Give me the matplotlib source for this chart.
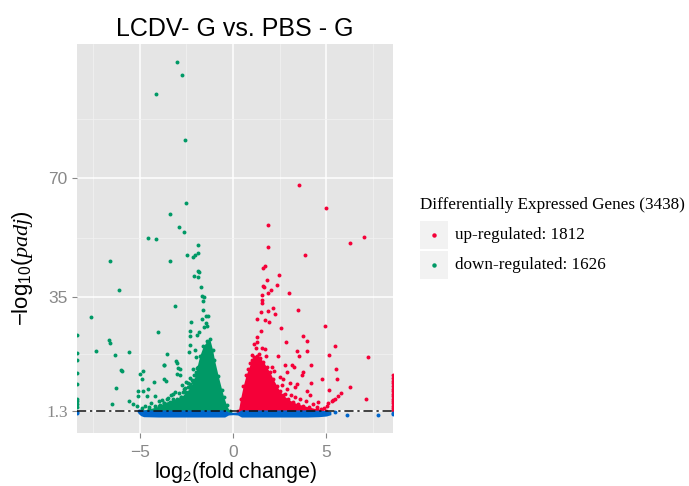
import numpy as np
import matplotlib
matplotlib.use("Agg")
import matplotlib.pyplot as plt
from matplotlib.patches import Rectangle

plt.rcParams['font.family'] = ['Liberation Sans', 'DejaVu Sans']
plt.rcParams['mathtext.fontset'] = 'custom'
plt.rcParams['mathtext.rm'] = 'Liberation Sans'
plt.rcParams['mathtext.it'] = 'Liberation Serif:italic'

# --- data ----------------------------------------------------------------
title = "LCDV- G vs. PBS - G"
n_up = 1812
n_down = 1626
padj_line = 1.3

# down-regulated genes, scattered points (log2FC, -log10 padj)
down_x = [-3.02, -2.73, -4.13, -2.56, -2.50, -3.40, -2.91, -2.61, -4.56, -4.15, -1.89,
          -2.45, -2.13, -2.04, -1.89, -6.58, -3.36, -1.86, -1.81, -2.09, -1.88, -1.73,
          -6.13, -1.65, -1.57, -1.62, -3.11, -1.59, -7.60, -1.43, -1.34, -1.66, -1.45,
          -2.25, -2.29, -2.31, -1.81, -1.92, -1.54, -1.40, -4.04, -6.67, -6.62, -2.31,
          -2.34, -2.02, -2.00, -7.35, -5.56, -6.33, -3.56, -3.07, -2.99, -3.68, -3.72,
          -6.02, -5.95, -2.93, -2.84, -3.02, -2.84, -2.13, -2.11, -1.97, -1.88, -1.81,
          -5.02, -4.86, -4.90, -3.73, -4.27, -3.60, -2.73, -2.66, -2.52, -2.41, -2.29,
          -2.13, -6.27, -5.08, -4.81, -4.54, -3.11, -3.32, -3.56, -3.82, -5.08, -4.63,
          -4.18, -5.60, -5.35, -5.16, -6.49, -4.90, -4.70, -4.50, -4.40, -4.20, -4.00,
          -3.90, -3.70, -3.50, -3.40, -3.20, -3.00, -2.90, -2.80, -2.70, -2.60, -2.50,
          -2.40, -2.30, -2.20]
down_y = [104.4, 100.6, 94.8, 81.4, 62.7, 59.4, 55.5, 54.3, 52.3, 52.0, 50.2,
          47.4, 46.7, 47.4, 48.1, 45.6, 45.7, 42.7, 42.3, 41.1, 41.0, 38.0,
          37.1, 35.4, 35.1, 33.9, 32.4, 31.3, 29.2, 29.3, 29.3, 28.5, 27.4,
          27.6, 25.1, 23.6, 24.8, 23.9, 26.1, 26.4, 24.8, 22.4, 21.3, 20.7,
          18.7, 19.5, 17.4, 19.0, 18.8, 17.8, 18.2, 16.1, 15.6, 15.0, 14.9,
          13.6, 13.1, 14.0, 13.8, 12.4, 11.9, 13.8, 11.9, 12.9, 14.3, 12.6,
          12.4, 13.1, 10.8, 10.9, 9.9, 10.2, 9.1, 7.9, 9.9, 9.7, 9.4,
          9.9, 8.2, 7.4, 7.3, 7.9, 7.0, 6.0, 5.0, 4.5, 5.7, 5.7,
          5.7, 4.2, 3.5, 2.9, 3.3, 2.2, 3.0, 2.6, 3.8, 2.9, 4.4,
          3.1, 3.6, 5.2, 4.0, 6.5, 5.0, 6.8, 5.6, 7.0, 8.2, 6.5,
          8.4, 11.0, 10.5]
# down-regulated genes with log2FC = -Inf (drawn on the panel edge)
down_inf_y = [23.9, 18.4, 16.3, 12.6, 9.4, 5.0, 4.2, 3.5, 2.5]
# dense core of down-regulated genes: upper envelope
down_core_x = [-5.0, -4.5, -4.0, -3.7, -3.2, -2.8, -2.5, -2.3, -2.1, -1.95, -1.8,
               -1.6, -1.4, -1.25, -1.1, -1.0, -0.8, -0.6, -0.5, -0.35, -0.18]
down_core_y = [1.5, 2.0, 2.8, 3.8, 4.8, 5.5, 7.0, 8.5, 10.5, 14.0, 17.5,
               20.5, 22.0, 22.6, 19.5, 16.5, 11.8, 7.5, 5.5, 3.1, 1.3]

# up-regulated genes, scattered points
up_x = [3.56, 5.00, 1.88, 6.27, 7.02, 1.88, 3.86, 1.63, 1.72, 2.48, 1.80, 2.34,
        1.63, 1.68, 2.02, 1.86, 2.99, 1.57, 1.54, 1.57, 2.13, 1.86, 1.49, 3.47,
        2.27, 1.27, 1.70, 1.91, 2.57, 1.50, 4.95, 1.27, 1.30, 1.11, 1.22, 3.74,
        3.98, 2.82, 5.47, 3.43, 3.98, 3.54, 5.15, 7.26, 2.40, 1.77, 1.72, 1.54,
        1.41, 2.80, 3.18, 3.27, 4.18, 5.50, 5.56, 4.75, 2.88, 3.06, 2.70, 3.42,
        3.68, 3.74, 4.18, 3.98, 4.13, 3.34, 2.80, 6.27, 5.17, 5.79, 5.61, 5.47,
        5.38, 5.29, 7.11, 4.57, 5.08, 5.02, 4.72, 2.10, 2.20, 2.50, 2.60, 2.90,
        3.10, 3.30, 3.60, 3.90, 4.30, 4.50, 4.90, 0.90, 1.00, 1.15]
up_y = [67.9, 61.1, 56.2, 51.0, 52.7, 49.8, 47.4, 43.5, 44.0, 41.5, 40.0, 38.6,
        38.3, 37.9, 37.1, 36.1, 36.2, 35.7, 34.1, 33.1, 31.8, 31.0, 30.7, 31.1,
        29.9, 28.4, 28.3, 27.7, 25.8, 25.1, 26.5, 23.1, 21.8, 21.2, 20.1, 23.5,
        22.1, 21.6, 20.5, 19.2, 19.1, 17.6, 17.8, 17.4, 17.7, 17.7, 19.7, 19.9,
        18.2, 15.0, 14.8, 14.3, 15.0, 13.8, 10.9, 10.7, 12.8, 9.7, 10.9, 9.4,
        12.1, 12.8, 9.7, 7.4, 6.0, 8.4, 6.5, 8.4, 7.6, 6.8, 5.8, 5.0,
        4.5, 4.2, 5.0, 4.0, 3.7, 3.0, 1.9, 14.5, 13.2, 11.5, 9.0, 8.0,
        6.2, 5.5, 4.8, 4.2, 3.4, 2.6, 2.3, 15.5, 17.8, 16.5]
# up-regulated genes with log2FC = +Inf
up_inf_y = [11.9, 11.0, 10.2, 9.5, 8.7, 8.0, 7.2, 6.5, 5.8, 5.0, 4.3, 3.6, 2.9, 2.2, 1.6]
up_core_x = [0.28, 0.40, 0.55, 0.70, 0.82, 1.00, 1.15, 1.27, 1.45, 1.63, 1.80, 1.98,
             2.15, 2.34, 2.50, 2.70, 2.95, 3.23, 3.50, 3.77, 4.10, 4.49, 4.80, 5.00]
up_core_y = [1.3, 5.0, 8.9, 12.0, 13.8, 16.3, 17.2, 17.7, 17.0, 15.9, 14.3, 12.8,
             10.8, 8.9, 7.3, 6.0, 4.9, 4.0, 3.4, 3.0, 2.5, 2.0, 1.5, 1.3]

# not significant genes
ns_x = [5.47, 6.11, 7.76, -5.05, -4.95]
ns_y = [1.2, 0.3, 0.3, 1.5, 1.0]
ns_inf_left_y = [1.0, 0.8]
ns_inf_right_y = [0.6, 0.9]
ns_band_x = [-5.10, -4.95, -4.80, -4.00, -2.00, -0.45, -0.25, 0.00, 0.25, 0.45, 2.00,
             4.00, 4.60, 5.00, 5.25]
ns_band_lo = [0.7, 0.0, -0.3, -0.4, -0.4, -0.4, 0.2, 0.3, 0.2, -0.4, -0.4,
              -0.4, -0.3, -0.1, 0.3]
ns_band_hi = [1.6, 1.8, 1.7, 1.7, 1.7, 1.7, 1.1, 1.0, 1.1, 1.7, 1.7,
              1.7, 1.6, 1.5, 1.2]

red = '#F50038'
green = '#009966'
blue = '#0066CC'

fig = plt.figure(figsize=(6.89, 4.86), dpi=100)
ax = fig.add_axes([0.1122, 0.1084, 0.4578, 0.801])
ax.set_facecolor('#E5E5E5')
xmin, xmax = -8.36, 8.57
ax.set_xlim(xmin, xmax)
ax.set_ylim(-5.2, 109.6)

ax.set_xticks([-5, 0, 5])
ax.set_xticks([-7.5, -2.5, 2.5, 7.5], minor=True)
ax.set_yticks([padj_line, 35, 70])
ax.set_yticklabels(['1.3', '35', '70'])
ax.set_yticks([18.15, 52.5, 87.5], minor=True)
ax.grid(which='major', color='white', lw=1.1)
ax.grid(which='minor', color='#F2F2F2', lw=0.5)
ax.set_axisbelow(True)
for s in ax.spines.values():
    s.set_visible(False)
ax.tick_params(which='major', length=3.5, width=0.8, color='#888888',
               labelcolor='#888888', labelsize=12.5)
ax.tick_params(axis='x', pad=5)
ax.tick_params(which='minor', length=0)
ax.get_yticklabels()[0].set_family('Liberation Serif')

pt = 8
ax.fill_between(down_core_x, 1.0, down_core_y, color=green, lw=0, zorder=2)
ax.scatter(down_core_x, down_core_y, s=pt, color=green, lw=0, zorder=2)
ax.scatter(down_x, down_y, s=pt, color=green, lw=0, zorder=2)
ax.scatter(np.full(len(down_inf_y), xmin), down_inf_y, s=pt, color=green, lw=0, zorder=2)

ax.fill_between(up_core_x, 1.0, up_core_y, color=red, lw=0, zorder=2)
ax.scatter(up_core_x, up_core_y, s=pt, color=red, lw=0, zorder=2)
ax.scatter(up_x, up_y, s=pt, color=red, lw=0, zorder=2)
ax.scatter(np.full(len(up_inf_y), xmax), up_inf_y, s=pt, color=red, lw=0, zorder=2)

ax.fill_between(ns_band_x, ns_band_lo, ns_band_hi, color=blue, lw=0, zorder=3)
ax.scatter(ns_x, ns_y, s=pt, color=blue, lw=0, zorder=3)
ax.scatter(np.full(len(ns_inf_left_y), xmin), ns_inf_left_y, s=pt, color=blue, lw=0, zorder=3)
ax.scatter(np.full(len(ns_inf_right_y), xmax), ns_inf_right_y, s=pt, color=blue, lw=0, zorder=3)

ax.axhline(padj_line, color='#111111', lw=1.1, dashes=(6, 2.5, 1.5, 2.5), zorder=4)

ax.set_title(title, fontsize=18, pad=6)
ax.set_xlabel(r'$\mathrm{log}_2\mathrm{(fold\ change)}$', fontsize=15.5, labelpad=0)
ax.set_ylabel(r'$\mathrm{-log}_{10}(\mathit{padj})$', fontsize=16)
ax.yaxis.set_label_coords(-0.135, 0.425)

# legend drawn by hand (ggplot-style keys)
fig.text(420 / 689, 1 - 205 / 486, f"Differentially Expressed Genes ({n_up + n_down})",
         family='Liberation Serif', fontsize=12.3, va='center', ha='left')
keys = [(red, f"up-regulated: {n_up}", 221), (green, f"down-regulated: {n_down}", 251)]
for col, lab, top in keys:
    fig.add_artist(Rectangle((420 / 689, 1 - (top + 28) / 486), 28 / 689, 28 / 486,
                             transform=fig.transFigure, color='#F2F2F2', lw=0))
    fig.add_artist(plt.Line2D([434 / 689], [1 - (top + 14) / 486], marker='o', ms=2.2,
                              color=col, lw=0, transform=fig.transFigure))
    fig.text(455 / 689, 1 - (top + 14) / 486, lab, family='Liberation Serif',
             fontsize=12.3, va='center', ha='left')

fig.savefig('out.png', dpi=100)
